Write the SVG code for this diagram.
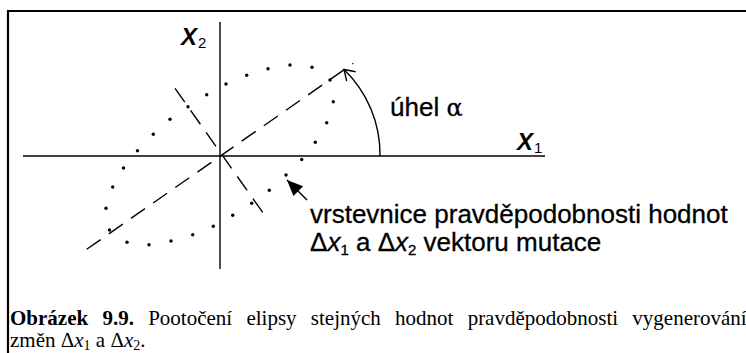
<svg xmlns="http://www.w3.org/2000/svg" width="746" height="353" viewBox="0 0 746 353">
  <defs>
    <style>
      .ln { stroke: #000; stroke-width: 1.4; fill: none; }
      .dash { stroke: #000; stroke-width: 1.4; fill: none; stroke-dasharray: 17 10; }
      .dot { fill: #000; }
      .lbl { font-family: "Liberation Sans", Arial, sans-serif; font-size: 26px; fill: #000; stroke: #000; stroke-width: 0.3; }
      .ax { font-family: "Liberation Sans", Arial, sans-serif; font-size: 24px; font-weight: bold; font-style: italic; fill: #000; }
      .sub { font-family: "Liberation Sans", Arial, sans-serif; font-size: 15px; font-weight: normal; font-style: normal; }
      .cap { font-family: "Liberation Serif", "Times New Roman", serif; font-size: 21px; fill: #000; }
    </style>
    <marker id="openHead" markerUnits="userSpaceOnUse" markerWidth="16" markerHeight="16" refX="0" refY="0" viewBox="-12 -8 14 16" orient="auto">
      <path d="M -10 -6.5 L 0 0 L -10 6.5" fill="none" stroke="#000" stroke-width="1.4"/>
    </marker>
    <marker id="solidHead" markerUnits="userSpaceOnUse" markerWidth="18" markerHeight="18" refX="0" refY="0" viewBox="-16 -8 17 16" orient="auto">
      <path d="M -15 -6.5 L 0 0 L -15 6.5 Z" fill="#000"/>
    </marker>
  </defs>

  <rect width="746" height="353" fill="#fff"/>

  <g id="frame">
    <path d="M 8 353 V 11 H 746" fill="none" stroke="#000" stroke-width="2.2"/>
  </g>

  <g id="axis-x1">
    <line class="ln" x1="23" y1="156" x2="545" y2="156"/>
    <text class="ax" x="517" y="150">X<tspan class="sub" dx="1" dy="3">1</tspan></text>
  </g>

  <g id="axis-x2">
    <line class="ln" x1="220" y1="22" x2="220" y2="269"/>
    <text class="ax" x="181" y="45">X<tspan class="sub" dx="1" dy="3">2</tspan></text>
  </g>

  <g id="major-axis">
    <line class="dash" x1="86.7" y1="249.3" x2="353.3" y2="63.3"/>
  </g>

  <g id="minor-axis">
    <line class="dash" x1="175" y1="88.3" x2="265" y2="215.7"/>
  </g>

  <g id="ellipse">
    <circle class="dot" cx="226" cy="84" r="1.7"/>
    <circle class="dot" cx="246.7" cy="75.3" r="1.7"/>
    <circle class="dot" cx="268" cy="68.7" r="1.7"/>
    <circle class="dot" cx="290" cy="65" r="1.7"/>
    <circle class="dot" cx="312" cy="67.3" r="1.7"/>
    <circle class="dot" cx="330" cy="80" r="1.7"/>
    <circle class="dot" cx="333.3" cy="101.7" r="1.7"/>
    <circle class="dot" cx="326.7" cy="122.7" r="1.7"/>
    <circle class="dot" cx="315.3" cy="142.3" r="1.7"/>
    <circle class="dot" cx="301.7" cy="159.5" r="1.7"/>
    <circle class="dot" cx="286" cy="175" r="1.7"/>
    <circle class="dot" cx="269.3" cy="190.3" r="1.7"/>
    <circle class="dot" cx="251.7" cy="203.3" r="1.7"/>
    <circle class="dot" cx="232.7" cy="215.3" r="1.7"/>
    <circle class="dot" cx="213.3" cy="226.3" r="1.7"/>
    <circle class="dot" cx="192.7" cy="234.7" r="1.7"/>
    <circle class="dot" cx="171" cy="241" r="1.7"/>
    <circle class="dot" cx="149" cy="244.7" r="1.7"/>
    <circle class="dot" cx="127" cy="242.3" r="1.7"/>
    <circle class="dot" cx="109.5" cy="230" r="1.7"/>
    <circle class="dot" cx="106" cy="208.3" r="1.7"/>
    <circle class="dot" cx="112.7" cy="187" r="1.7"/>
    <circle class="dot" cx="123.5" cy="168" r="1.7"/>
    <circle class="dot" cx="137.5" cy="150.7" r="1.7"/>
    <circle class="dot" cx="153.3" cy="134.3" r="1.7"/>
    <circle class="dot" cx="170" cy="119.3" r="1.7"/>
    <circle class="dot" cx="188" cy="106.7" r="1.7"/>
    <circle class="dot" cx="206.7" cy="94.7" r="1.7"/>
  </g>

  <g id="angle-label">
    <text class="lbl" x="390" y="116">úhel <tspan font-family="'DejaVu Serif', 'Liberation Serif', serif" font-size="24">α</tspan></text>
  </g>

  <g id="contour-label">
    <text class="lbl" x="310" y="223">vrstevnice pravděpodobnosti hodnot</text>
    <text class="lbl" x="310" y="251">Δ<tspan font-style="italic">x</tspan><tspan font-size="15" dy="4">1</tspan><tspan dy="-4"> a Δ</tspan><tspan font-style="italic">x</tspan><tspan font-size="15" dy="4">2</tspan><tspan dy="-4"> vektoru mutace</tspan></text>
  </g>

  <g id="connectors">
    <path id="angle-arc" class="ln" d="M 380 156 A 118 118 0 0 0 344 69.5" marker-end="url(#openHead)"/>
    <line id="pointer" class="ln" x1="307" y1="200" x2="287" y2="180" marker-end="url(#solidHead)"/>
  </g>

  <g id="caption">
    <text class="cap" x="10" y="325" word-spacing="9"><tspan font-weight="bold">Obrázek 9.9.</tspan> Pootočení elipsy stejných hodnot pravděpodobnosti vygenerování</text>
    <text class="cap" x="10" y="347">změn Δ<tspan font-style="italic">x</tspan><tspan font-size="14" dy="3">1</tspan><tspan dy="-3"> a Δ</tspan><tspan font-style="italic">x</tspan><tspan font-size="14" dy="3">2</tspan><tspan dy="-3">.</tspan></text>
  </g>
</svg>
